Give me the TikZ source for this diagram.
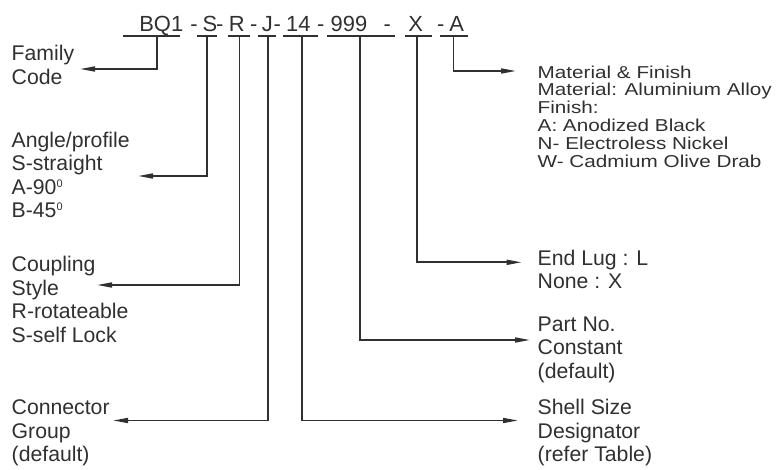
\documentclass[tikz,border=0pt]{standalone}
\usepackage{fontspec}
\setmainfont{Liberation Sans}
\newfontfamily\matfont[FakeStretch=1.2]{Liberation Sans}
\usetikzlibrary{arrows.meta}
\usepackage{xcolor}
\definecolor{inkGray}{RGB}{48, 48, 48}
\newcommand{\degsup}{\raisebox{7bp}{\fontsize{11}{11}\selectfont 0}}

\begin{document}
\begin{tikzpicture}[
    x=1bp, y=-1bp,
    code/.style={anchor=base, inner sep=0pt, text=inkGray, font=\fontsize{22}{24}\selectfont},
    lbl/.style={anchor=base west, inner sep=0pt, align=left, text=inkGray, font=\fontsize{21.3}{23.5}\selectfont},
    matlbl/.style={lbl, font=\matfont\fontsize{17.3}{18}\selectfont},
    uline/.style={draw=inkGray, line width=1.6bp},
    arrow/.style={-{Triangle[length=15bp, width=5bp]}, line width=1.6bp, inkGray}
]
\useasboundingbox (0,0) rectangle (779,470);

% Part number code
\node[code] (bq1)   at (161.3, 31.5) {BQ1};
\node[code] (dash1) at (194.0, 31.5) {-};
\node[code] (prof)  at (210.0, 31.5) {S};
\node[code] (dash2) at (219.7, 31.5) {-};
\node[code] (coup)  at (236.7, 31.5) {R};
\node[code] (dash3) at (253.7, 31.5) {-};
\node[code] (grp)   at (267.3, 31.5) {J};
\node[code] (dash4) at (277.3, 31.5) {-};
\node[code] (shell) at (298.3, 31.5) {14};
\node[code] (dash5) at (320.7, 31.5) {-};
\node[code] (part)  at (349.0, 31.5) {999};
\node[code] (dash6) at (387.3, 31.5) {-};
\node[code] (lug)   at (415.7, 31.5) {X};
\node[code] (dash7) at (440.7, 31.5) {-};
\node[code] (fin)   at (456.7, 31.5) {A};

% Underlines
\draw[uline] (123, 36) -- (180, 36);
\draw[uline] (197, 36) -- (217, 36);
\draw[uline] (228, 36) -- (250, 36);
\draw[uline] (258, 36) -- (276, 36);
\draw[uline] (283, 36) -- (318, 36);
\draw[uline] (327, 36) -- (395, 36);
\draw[uline] (405, 36) -- (432, 36);
\draw[uline] (440, 36) -- (468, 36);

% Left labels (placed by the baseline of their last line)
\node[lbl] (family)  at (11.5, 84.2)  {Family\\Code};
\node[lbl] (angle)   at (11.5, 217.8) {Angle/profile\\S-straight\\A-90\degsup\\B-45\degsup};
\node[lbl] (style)   at (11.5, 342.2) {Coupling\\Style\\R-rotateable\\S-self Lock};
\node[lbl] (connect) at (11.5, 461.7) {Connector\\Group\\(default)};

% Right labels
\node[matlbl] (material) at (537.5, 167.7) {Material \& Finish\\Material: Aluminium Alloy\\Finish:\\A: Anodized Black\\N- Electroless Nickel\\W- Cadmium Olive Drab};
\node[lbl] (endlug)   at (537.5, 288.5) {End Lug : L\\None : X};
\node[lbl] (partno)   at (537.5, 378.3) {Part No.\\Constant\\(default)};
\node[lbl] (shellsz)  at (537.5, 461.7) {Shell Size\\Designator\\(refer Table)};

% Taps under the code and arrow ends
\coordinate (tapBQ)    at (156.7, 36);
\coordinate (tapProf)  at (206.7, 36);
\coordinate (tapCoup)  at (239.3, 36);
\coordinate (tapGrp)   at (267.7, 36);
\coordinate (tapShell) at (301.7, 36);
\coordinate (tapPart)  at (360.0, 36);
\coordinate (tapLug)   at (416.7, 36);
\coordinate (tapFin)   at (453.3, 36);

\coordinate (tipFamily)   at (80, 69);
\coordinate (tipAngle)    at (138, 176);
\coordinate (tipStyle)    at (97, 285);
\coordinate (tipConnect)  at (113, 420.5);
\coordinate (tipMaterial) at (516, 71);
\coordinate (tipEndlug)   at (521.7, 262.3);
\coordinate (tipPartno)   at (530, 340);
\coordinate (tipShell)    at (518, 420.5);

\draw[arrow] (tapBQ) |- (tipFamily);
\draw[arrow] (tapProf) |- (tipAngle);
\draw[arrow] (tapCoup) |- (tipStyle);
\draw[arrow] (tapGrp) |- (tipConnect);
\draw[arrow] (tapShell) |- (tipShell);
\draw[arrow] (tapPart) |- (tipPartno);
\draw[arrow] (tapLug) |- (tipEndlug);
\draw[arrow] (tapFin) |- (tipMaterial);

\end{tikzpicture}
\end{document}
